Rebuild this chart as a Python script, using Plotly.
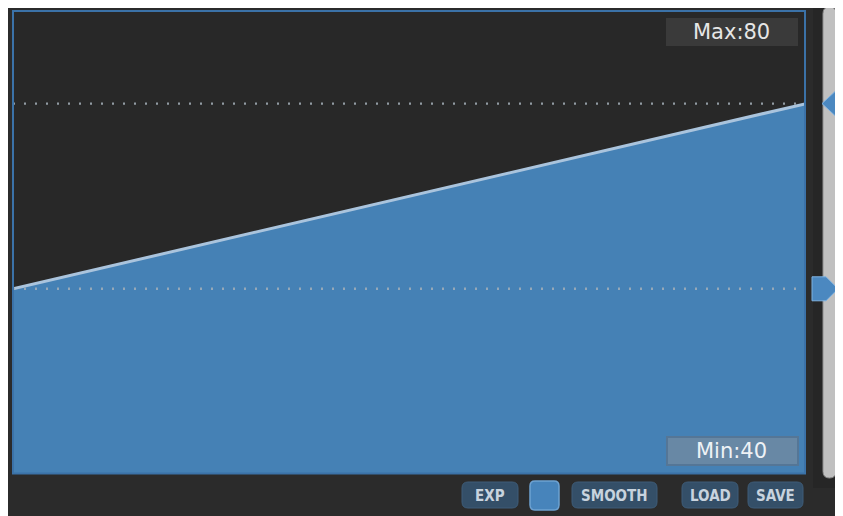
import plotly.graph_objects as go

# ---- data ----
curve_x = [0, 100]
curve_y = [40, 80]
min_val = 40
max_val = 80
y_range = [0, 100]
button_labels = ["EXP", "SMOOTH", "LOAD", "SAVE"]

# page body margin offset (browser default) is compensated here
OFF = 8
W, H = 843 - OFF, 516 - OFF
L, R, T, B = 13 - OFF, 37, 11 - OFF, 42
PW = W - L - R
PH = H - T - B


def px(x):
    return (x - OFF - L) / PW


def py(y):
    return (H + OFF - B - y) / PH


def rrect(x0, y0, x1, y1, r):
    return (f"M {px(x0 + r)},{py(y0)} L {px(x1 - r)},{py(y0)} "
            f"Q {px(x1)},{py(y0)} {px(x1)},{py(y0 + r)} "
            f"L {px(x1)},{py(y1 - r)} Q {px(x1)},{py(y1)} {px(x1 - r)},{py(y1)} "
            f"L {px(x0 + r)},{py(y1)} Q {px(x0)},{py(y1)} {px(x0)},{py(y1 - r)} "
            f"L {px(x0)},{py(y0 + r)} Q {px(x0)},{py(y0)} {px(x0 + r)},{py(y0)} Z")


fig = go.Figure()

fig.add_trace(go.Scatter(
    x=curve_x, y=curve_y, mode="lines", fill="tozeroy",
    fillcolor="#4581b5", line=dict(color="#aac4dd", width=3),
    hoverinfo="skip", showlegend=False))

for v in (max_val, min_val):
    fig.add_trace(go.Scatter(
        x=[curve_x[0], curve_x[-1]], y=[v, v], mode="lines",
        line=dict(color="rgba(165,175,185,0.85)", width=2.4, dash="2px,9px"),
        hoverinfo="skip", showlegend=False))

shapes = []
# slider column
shapes.append(dict(type="rect", xref="paper", yref="paper", x0=px(813), x1=px(W + OFF + 2),
                   y0=py(5), y1=py(488), fillcolor="#262626", line_width=0, layer="below"))
# plot background
shapes.append(dict(type="rect", xref="paper", yref="paper", x0=px(13), x1=px(806),
                   y0=py(11), y1=py(474), fillcolor="#282828", line_width=0, layer="below"))
# plot border
shapes.append(dict(type="rect", xref="paper", yref="paper", x0=px(13), x1=px(805),
                   y0=py(11), y1=py(473.5), line=dict(color="#3b72a8", width=2),
                   fillcolor="rgba(0,0,0,0)", layer="above"))
# slider track
shapes.append(dict(type="path", xref="paper", yref="paper", path=rrect(823, 7, 836, 478, 6.5),
                   fillcolor="#c0c0c0", line=dict(color="#8e8e8e", width=1), layer="above"))
# max arrow (left-pointing)
shapes.append(dict(type="path", xref="paper", yref="y", xsizemode="pixel", ysizemode="pixel",
                   xanchor=1, yanchor=max_val,
                   path="M 16,0 L 29,12 L 40,12 L 40,-12 L 29,-12 Z",
                   fillcolor="#4b88c0", line=dict(color="#7fb2e0", width=1), layer="above"))
# min arrow (right-pointing)
shapes.append(dict(type="path", xref="paper", yref="y", xsizemode="pixel", ysizemode="pixel",
                   xanchor=1, yanchor=min_val,
                   path="M 6,12 L 20,12 L 32,0 L 20,-12 L 6,-12 Z",
                   fillcolor="#4b88c0", line=dict(color="#7fb2e0", width=1), layer="above"))
# Max label box
shapes.append(dict(type="rect", xref="paper", yref="paper", x0=px(666), x1=px(798),
                   y0=py(18), y1=py(46), fillcolor="#3a3a3a", line_width=0, layer="above"))
# Min label box
shapes.append(dict(type="rect", xref="paper", yref="paper", x0=px(667), x1=px(798),
                   y0=py(437), y1=py(465), fillcolor="#6888a5",
                   line=dict(color="#557696", width=2), layer="above"))

buttons = [(462, 518), (572, 657), (682, 738), (748, 803)]
for (x0, x1) in buttons:
    shapes.append(dict(type="path", xref="paper", yref="paper", path=rrect(x0, 482, x1, 508, 6),
                       fillcolor="#344f68", line=dict(color="#3e5c78", width=1), layer="above"))
# colour swatch
shapes.append(dict(type="path", xref="paper", yref="paper", path=rrect(530, 481, 559, 510, 5),
                   fillcolor="#4784bb", line=dict(color="#6ea2d2", width=1.5), layer="above"))

annotations = [
    dict(xref="paper", yref="paper", x=px(731), y=py(32), text=f"Max:{max_val}",
         showarrow=False, font=dict(family="DejaVu Sans", size=21, color="#e6e6e6"),
         xanchor="center", yanchor="middle"),
    dict(xref="paper", yref="paper", x=px(731), y=py(451), text=f"Min:{min_val}",
         showarrow=False, font=dict(family="DejaVu Sans", size=21, color="#eef2f6"),
         xanchor="center", yanchor="middle"),
]
for (x0, x1), lab in zip(buttons, button_labels):
    annotations.append(dict(xref="paper", yref="paper", x=px((x0 + x1) / 2), y=py(495.5),
                            text=lab, showarrow=False,
                            font=dict(family="Liberation Sans Narrow, DejaVu Sans Condensed, Roboto",
                                      size=15, color="#c8d3de", weight=600),
                            xanchor="center", yanchor="middle"))

fig.update_layout(
    width=W, height=H, margin=dict(l=L, r=R, t=T, b=B, pad=0),
    paper_bgcolor="#2b2b2b", plot_bgcolor="rgba(0,0,0,0)",
    xaxis=dict(range=[curve_x[0], curve_x[-1]], visible=False, fixedrange=True),
    yaxis=dict(range=y_range, visible=False, fixedrange=True),
    shapes=shapes, annotations=annotations, showlegend=False,
)

fig.write_html("out.html", config={"displayModeBar": False})
